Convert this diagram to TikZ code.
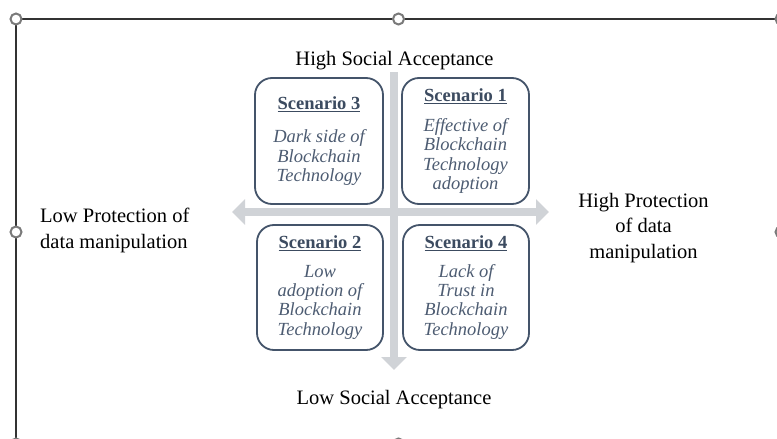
\documentclass[tikz,border=0pt]{standalone}
\usepackage{fontspec}
\setmainfont{Liberation Serif}
\usetikzlibrary{arrows.meta}
\definecolor{frameline}{HTML}{333333}
\definecolor{handleline}{HTML}{7A7A7A}
\definecolor{axisgray}{HTML}{D0D3D7}
\definecolor{boxline}{HTML}{44546A}
\definecolor{titletext}{HTML}{3C4B60}
\definecolor{bodytext}{HTML}{4D5C72}
\tikzset{
  handle/.style={circle, draw=handleline, line width=2pt, fill=white, minimum size=11pt, inner sep=0pt},
  axis/.style={draw=axisgray, line width=8pt},
  axistip/.style={-{Triangle[width=25pt,length=13pt]}},
  scenbox/.style={draw=boxline, line width=1.8pt, rounded corners=17pt, fill=white,
    inner sep=0pt, align=center, text=bodytext,
    font=\fontsize{18.5}{19.3}\selectfont\itshape},
  label/.style={font=\fontsize{20.5}{25.5}\selectfont, text=black, inner sep=0pt, align=center},
}
\newcommand{\scentitle}[1]{{\upshape\bfseries\color{titletext}\underline{#1}}}
\begin{document}
\begin{tikzpicture}[x=1pt, y=-1pt]
\useasboundingbox (0,0) rectangle (777,439);
\begin{scope}
\clip (0,0) rectangle (777,439);
% selection frame
\draw[frameline, line width=2.2pt] (16,444) -- (16,19) -- (781,19) -- (781,444);
\node[handle] (h1) at (16,19) {};
\node[handle] (h2) at (398.5,19) {};
\node[handle] (h3) at (781,19) {};
\node[handle] (h4) at (16,232) {};
\node[handle] (h5) at (781,232) {};
\node[handle] (h6) at (16,444) {};
\node[handle] (h7) at (398.5,444) {};
\end{scope}

% axes
\coordinate (west) at (232,212);
\coordinate (east) at (549,212);
\coordinate (north) at (394,72);
\coordinate (south) at (394,370);
\draw[axis, {Triangle[width=25pt,length=13pt]}-{Triangle[width=25pt,length=13pt]}] (west) -- (east);
\draw[axis, axistip] (north) -- (south);

% scenario boxes
\node[scenbox, minimum width=128pt, minimum height=126pt] (s3) at (319,141)
  {\scentitle{Scenario 3}\\[14pt]Dark side of\\Blockchain\\Technology};
\node[scenbox, minimum width=127pt, minimum height=126pt] (s1) at (465.5,141)
  {\scentitle{Scenario 1}\\[11pt]Effective of\\Blockchain\\Technology\\adoption};
\node[scenbox, minimum width=126pt, minimum height=125pt] (s2) at (320,287.5)
  {\scentitle{Scenario 2}\\[9pt]Low\\adoption of\\Blockchain\\Technology};
\node[scenbox, minimum width=126pt, minimum height=125pt] (s4) at (466,287.5)
  {\scentitle{Scenario 4}\\[9pt]Lack of\\Trust in\\Blockchain\\Technology};

% axis labels
\node[label, anchor=base] (top) at (394.5,65) {High Social Acceptance};
\node[label, anchor=base] (bottom) at (394,404) {Low Social Acceptance};
\node[label, anchor=base west, align=left] (left) at (40,248) {Low Protection of\\data manipulation};
\node[label, anchor=base] (right) at (643.5,258) {High Protection\\of data\\manipulation};
\end{tikzpicture}
\end{document}
